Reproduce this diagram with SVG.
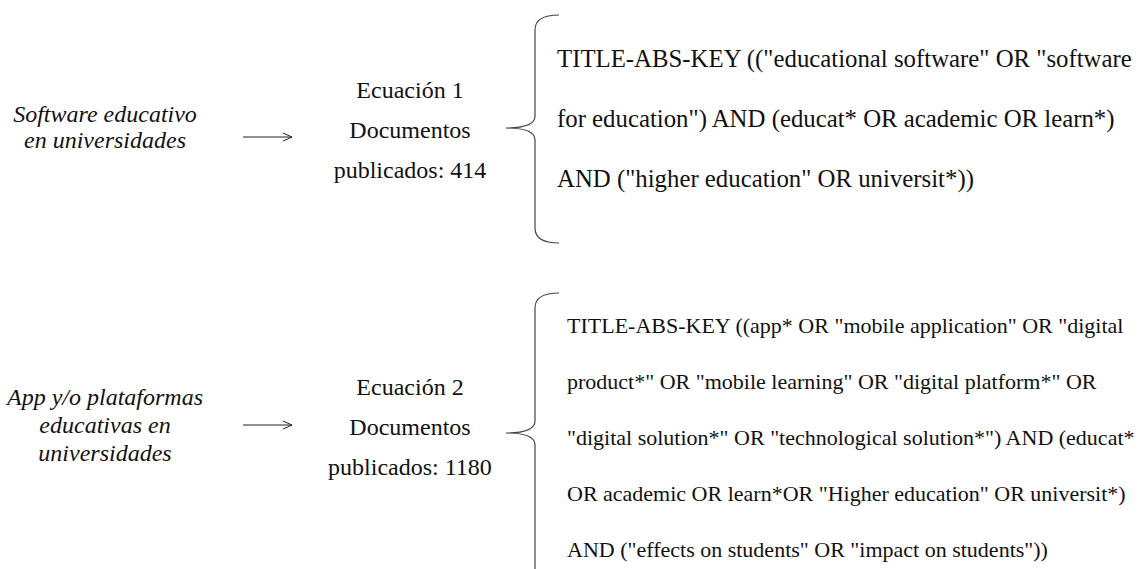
<svg xmlns="http://www.w3.org/2000/svg" width="1147" height="569" viewBox="0 0 1147 569" font-family="'Liberation Serif', 'DejaVu Serif', serif">
<style>
text{font-family:'Liberation Serif','DejaVu Serif',serif;fill:#111}
.it{font-style:italic;font-size:24px}
.eq{font-size:24px}
.q1{font-size:24.8px}
.q2{font-size:22px}
.br{fill:none;stroke:#444;stroke-width:1.2}
.ar{fill:none;stroke:#222;stroke-width:1}
</style>
<defs>
<marker id="ah" markerWidth="12" markerHeight="10" refX="10" refY="5" orient="auto" markerUnits="userSpaceOnUse">
<path d="M1,1 L10,5 L1,9" fill="none" stroke="#222" stroke-width="1"/>
</marker>
</defs>
<rect width="1147" height="569" fill="#fff"/>
<g id="topic1">
<text class="it" text-anchor="middle" x="105" y="122">Software educativo</text>
<text class="it" text-anchor="middle" x="105" y="148">en universidades</text>
</g>
<g id="eq1">
<text class="eq" text-anchor="middle" x="410" y="98">Ecuación 1</text>
<text class="eq" text-anchor="middle" x="410" y="138">Documentos</text>
<text class="eq" text-anchor="middle" x="410" y="178">publicados: 414</text>
</g>
<g id="query1">
<text class="q1" x="557" y="67">TITLE-ABS-KEY (("educational software" OR "software</text>
<text class="q1" x="557" y="127">for education") AND (educat* OR academic OR learn*)</text>
<text class="q1" x="557" y="187">AND ("higher education" OR universit*))</text>
</g>
<g id="topic2">
<text class="it" text-anchor="middle" x="105" y="405">App y/o plataformas</text>
<text class="it" text-anchor="middle" x="105" y="433">educativas en</text>
<text class="it" text-anchor="middle" x="105" y="461">universidades</text>
</g>
<g id="eq2">
<text class="eq" text-anchor="middle" x="410" y="395">Ecuación 2</text>
<text class="eq" text-anchor="middle" x="410" y="435">Documentos</text>
<text class="eq" text-anchor="middle" x="410" y="475">publicados: 1180</text>
</g>
<g id="query2">
<text class="q2" x="567" y="333">TITLE-ABS-KEY ((app* OR "mobile application" OR "digital</text>
<text class="q2" x="567" y="389">product*" OR "mobile learning" OR "digital platform*" OR</text>
<text class="q2" x="567" y="445">"digital solution*" OR "technological solution*") AND (educat*</text>
<text class="q2" x="567" y="501">OR academic OR learn*OR "Higher education" OR universit*)</text>
<text class="q2" x="567" y="557">AND ("effects on students" OR "impact on students"))</text>
</g>
<g id="connectors">
<line class="ar" x1="243" y1="137" x2="292" y2="137" marker-end="url(#ah)"/>
<line class="ar" x1="243" y1="425" x2="292" y2="425" marker-end="url(#ah)"/>
<path class="br" d="M559,15 Q535,15 535,30 L535,116 Q535,128 506,128 Q535,128 535,140 L535,228 Q535,243 559,243"/>
<path class="br" d="M559,293 Q535,293 535,308 L535,421 Q535,433 506,433 Q535,433 535,445 L535,575"/>
</g>
</svg>
